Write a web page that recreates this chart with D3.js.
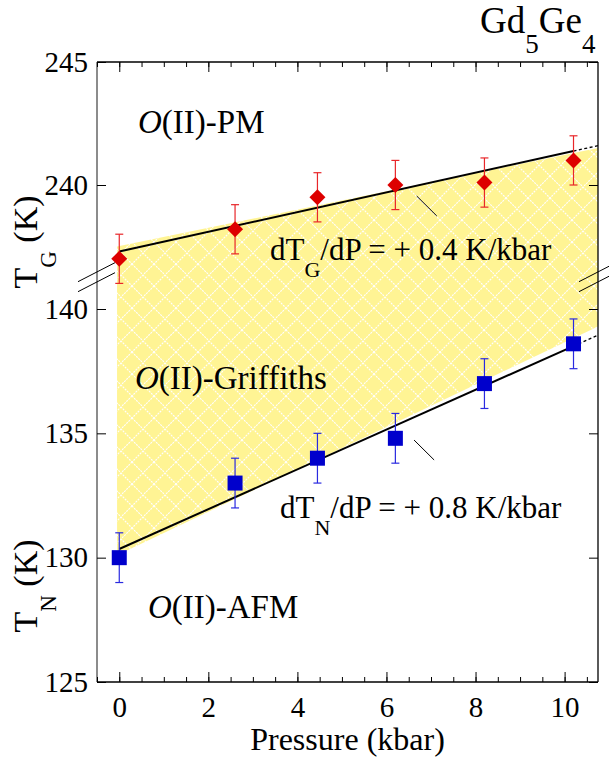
<!DOCTYPE html>
<html>
<head>
<meta charset="utf-8">
<script src="https://cdn.jsdelivr.net/npm/d3@7"></script>
<style>
  body { margin: 0; background: #fff; }
</style>
</head>
<body>
<svg id="chart" width="609" height="760"></svg>
<script>
'use strict';

var SERIF = '"Liberation Serif"';

// data
var pressure = [0, 2.6, 4.45, 6.2, 8.2, 10.2];
var tG = [237.0, 238.2, 239.5, 240.0, 240.1, 241.0];
var tGErr = [1, 1, 1, 1, 1, 1];
var tN = [130.0, 133.0, 134.0, 134.8, 137.0, 138.6];
var tNErr = [1, 1, 1, 1, 1, 1];
// linear fits: [intercept, slope]
var fitG = [237.3, 0.4];
var fitN = [130.35, 0.8];
// shaded Griffiths band edges [pressure, T]
var bandTop = [[-0.05, 237.5], [10.75, 241.5]];
var bandBottom = [[-0.05, 130.1], [10.75, 139.3]];

var xTicks = [0, 2, 4, 6, 8, 10];
var xMinor = d3.range(-0.5, 10.75, 0.5);
var yNTicks = [125, 130, 135, 140];
var yGTicks = [240, 245];

var margin = { left: 97, top: 62, right: 11, bottom: 78 };
var W = 609, H = 760;

var svg = d3.select('#chart');

var x = d3.scaleLinear()
	.domain([-0.5, 10.75])
	.range([margin.left, W - margin.right]);
// broken axis: same K per pixel in both parts
var yN = d3.scaleLinear()
	.domain([125, 140])
	.range([H - margin.bottom, 309]);
var yG = d3.scaleLinear()
	.domain([240, 245])
	.range([185, margin.top]);

var tile = 22;
var defs = svg.append('defs');
var pat = defs.append('pattern')
	.attr('id', 'hatch')
	.attr('patternUnits', 'userSpaceOnUse')
	.attr('width', tile)
	.attr('height', tile);
pat.append('rect').attr('width', tile).attr('height', tile).attr('fill', '#fff494');
pat.append('path')
	.attr('d', 'M0,0L' + tile + ',' + tile + 'M' + tile + ',0L0,' + tile)
	.attr('stroke', '#fff')
	.attr('stroke-width', 1.1)
	.attr('stroke-dasharray', '2,1');

// band
var bandPts = [
	[x(bandTop[0][0]), yG(bandTop[0][1])],
	[x(bandTop[1][0]), yG(bandTop[1][1])],
	[x(bandBottom[1][0]), yN(bandBottom[1][1])],
	[x(bandBottom[0][0]), yN(bandBottom[0][1])]
];
svg.append('path')
	.attr('d', d3.line()(bandPts) + 'Z')
	.attr('fill', 'url(#hatch)');

// frame
var x0 = x.range()[0], x1 = x.range()[1];
var yTop = yG(245), yBot = yN(125);
svg.append('line').attr('x1', x0).attr('x2', x1).attr('y1', yTop).attr('y2', yTop).attr('stroke', '#000').attr('stroke-width', 1.3);
svg.append('line').attr('x1', x0).attr('x2', x1).attr('y1', yBot).attr('y2', yBot).attr('stroke', '#000').attr('stroke-width', 1.3);
svg.append('line').attr('x1', x1).attr('x2', x1).attr('y1', yTop).attr('y2', yBot).attr('stroke', '#000').attr('stroke-width', 1.3);
svg.append('line').attr('x1', x0).attr('x2', x0).attr('y1', yTop).attr('y2', yBot).attr('stroke', '#666').attr('stroke-width', 1.5);

function styleAxis(g) {
	g.attr('font-family', null).attr('font-size', null);
	g.select('.domain').remove();
	g.selectAll('line').attr('stroke', '#000').attr('stroke-width', 1);
	g.selectAll('text')
		.attr('font-family', SERIF)
		.attr('font-size', 29)
		.attr('fill', '#000');
}

var fmt = d3.format('d');

// x axis
svg.append('g')
	.attr('transform', 'translate(0,' + yBot + ')')
	.call(d3.axisBottom(x).tickValues(xMinor).tickSize(-5).tickFormat(''))
	.call(styleAxis);
svg.append('g')
	.attr('transform', 'translate(0,' + yBot + ')')
	.call(d3.axisBottom(x).tickValues(xTicks).tickSize(-10).tickPadding(14).tickFormat(fmt))
	.call(styleAxis);
svg.append('g')
	.attr('transform', 'translate(0,' + yTop + ')')
	.call(d3.axisTop(x).tickValues(xMinor).tickSize(-5).tickFormat(''))
	.call(styleAxis);
svg.append('g')
	.attr('transform', 'translate(0,' + yTop + ')')
	.call(d3.axisTop(x).tickValues(xTicks).tickSize(-10).tickFormat(''))
	.call(styleAxis);

// y axes
svg.append('g')
	.attr('transform', 'translate(' + x0 + ',0)')
	.call(d3.axisLeft(yN).tickValues(yNTicks).tickSize(-9).tickPadding(9).tickFormat(fmt))
	.call(styleAxis);
svg.append('g')
	.attr('transform', 'translate(' + x0 + ',0)')
	.call(d3.axisLeft(yG).tickValues(yGTicks).tickSize(-9).tickPadding(9).tickFormat(fmt))
	.call(styleAxis);
svg.append('g')
	.attr('transform', 'translate(' + x1 + ',0)')
	.call(d3.axisRight(yN).tickValues(yNTicks).tickSize(-9).tickFormat(''))
	.call(styleAxis);
svg.append('g')
	.attr('transform', 'translate(' + x1 + ',0)')
	.call(d3.axisRight(yG).tickValues(yGTicks).tickSize(-9).tickFormat(''))
	.call(styleAxis);

// axis break marks
var breakY = yN(141.3);
[x0, x1].forEach(function(bx) {
	[-5, 5].forEach(function(off) {
		svg.append('line')
			.attr('x1', bx - 19).attr('y1', breakY + off + 10)
			.attr('x2', bx + 18).attr('y2', breakY + off - 9)
			.attr('stroke', '#000').attr('stroke-width', 1);
	});
});

// fit lines
function fitLine(fit, ys, from, to, dashed) {
	svg.append('line')
		.attr('x1', x(from)).attr('y1', ys(fit[0] + fit[1] * from))
		.attr('x2', x(to)).attr('y2', ys(fit[0] + fit[1] * to))
		.attr('stroke', '#000')
		.attr('stroke-width', dashed ? 1.3 : 2)
		.attr('stroke-dasharray', dashed ? '3,2.5' : null);
}
var pLast = pressure[pressure.length - 1];
fitLine(fitG, yG, 0, pLast, false);
fitLine(fitG, yG, pLast, x.domain()[1], true);
fitLine(fitN, yN, 0, pLast, false);
fitLine(fitN, yN, pLast, x.domain()[1], true);

// leader lines from fits to labels
var leaders = [[6.68, 239.55, 7.13, 238.74, 'G'], [6.62, 134.73, 7.07, 133.93, 'N']];
leaders.forEach(function(l) {
	var ys = l[4] === 'G' ? yG : yN;
	svg.append('line')
		.attr('x1', x(l[0])).attr('y1', ys(l[1]))
		.attr('x2', x(l[2])).attr('y2', ys(l[3]))
		.attr('stroke', '#000').attr('stroke-width', 1);
});

// error bars
function errorBars(vals, errs, ys, color) {
	var g = svg.append('g').attr('stroke', color).attr('stroke-width', 1.2);
	pressure.forEach(function(p, i) {
		var cx = x(p);
		g.append('line').attr('x1', cx).attr('x2', cx)
			.attr('y1', ys(vals[i] - errs[i])).attr('y2', ys(vals[i] + errs[i]));
		[vals[i] - errs[i], vals[i] + errs[i]].forEach(function(v) {
			g.append('line').attr('x1', cx - 4).attr('x2', cx + 4)
				.attr('y1', ys(v)).attr('y2', ys(v));
		});
	});
}
errorBars(tG, tGErr, yG, '#e8262a');
errorBars(tN, tNErr, yN, '#2a2ae0');

// markers
svg.append('g').selectAll('path')
	.data(pressure)
	.enter().append('path')
	.attr('transform', function(p, i) { return 'translate(' + x(p) + ',' + yG(tG[i]) + ')'; })
	.attr('d', 'M0,-8L8,0L0,8L-8,0Z')
	.attr('fill', '#dd0000');
svg.append('g').selectAll('rect')
	.data(pressure)
	.enter().append('rect')
	.attr('x', function(p) { return x(p) - 7.5; })
	.attr('y', function(p, i) { return yN(tN[i]) - 7.5; })
	.attr('width', 15).attr('height', 15)
	.attr('fill', '#0000cc');

function addText(px, py, size) {
	return svg.append('text')
		.attr('x', px).attr('y', py)
		.attr('font-family', SERIF)
		.attr('font-size', size)
		.attr('fill', '#000');
}

// phase labels
function phaseLabel(px, py, rest) {
	var t = addText(px, py, 33);
	t.append('tspan').attr('font-style', 'italic').text('O');
	t.append('tspan').text(rest);
}
phaseLabel(138, 133, '(II)-PM');
phaseLabel(135, 389, '(II)-Griffiths');
phaseLabel(148, 618, '(II)-AFM');

function slopeLabel(px, py, sub, rest) {
	var t = addText(px, py, 31);
	t.append('tspan').text('dT');
	t.append('tspan').attr('dy', 17).attr('font-size', 22).text(sub);
	t.append('tspan').attr('dy', -17).text(rest);
}
slopeLabel(270, 260, 'G', '/dP = + 0.4 K/kbar');
slopeLabel(280, 518, 'N', '/dP = + 0.8 K/kbar');

// title
var title = addText(480, 33, 37);
title.append('tspan').text('Gd');
title.append('tspan').attr('dy', 20).attr('font-size', 27).text('5');
title.append('tspan').attr('dy', -20).text('Ge');
title.append('tspan').attr('dy', 20).attr('font-size', 27).text('4');

// axis titles
function yTitle(cx, cy, sub) {
	var t = svg.append('text')
		.attr('transform', 'translate(' + cx + ',' + cy + ') rotate(-90)')
		.attr('text-anchor', 'middle')
		.attr('font-family', SERIF)
		.attr('font-size', 34)
		.attr('fill', '#000');
	t.append('tspan').text('T');
	t.append('tspan').attr('dy', 19).attr('font-size', 23).text(sub);
	t.append('tspan').attr('dy', -19).text(' (K)');
}
yTitle(37, 242, 'G');
yTitle(37, 586, 'N');

addText((x0 + x1) / 2, 750, 32)
	.attr('text-anchor', 'middle')
	.text('Pressure (kbar)');
</script>
</body>
</html>
